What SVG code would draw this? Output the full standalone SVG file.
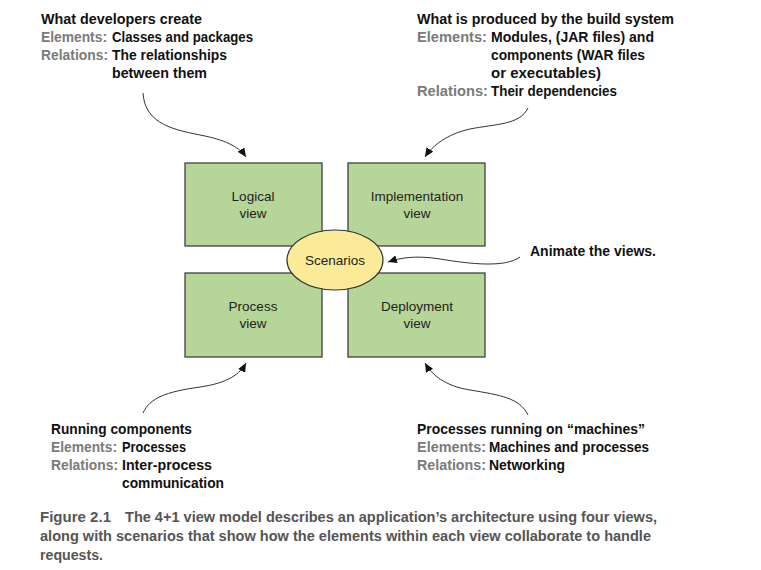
<svg xmlns="http://www.w3.org/2000/svg" width="761" height="570" viewBox="0 0 761 570">
<defs>
<marker id="ah" markerWidth="9" markerHeight="8" refX="9" refY="4" orient="auto" markerUnits="userSpaceOnUse">
<path d="M0,0 L9,4 L0,8 z" fill="#111"/>
</marker>
<style>
.box{fill:#b6d598;stroke:#333;stroke-width:1.2}
.ell{fill:#fbeb98;stroke:#333;stroke-width:1.2}
.bt{font-family:"Liberation Sans",Arial,sans-serif;font-size:13.5px;fill:#222;text-anchor:middle}
.h{font-family:"Liberation Sans",Arial,sans-serif;font-size:15px;font-weight:bold;fill:#111}
.g{font-family:"Liberation Sans",Arial,sans-serif;font-size:15px;font-weight:bold;fill:#7a7a7a}
.cap{font-family:"Liberation Sans",Arial,sans-serif;font-size:14px;font-weight:bold;fill:#555}
.c{fill:none;stroke:#333;stroke-width:1}
</style>
</defs>
<rect width="761" height="570" fill="#fff"/>
<g id="logical"><rect class="box" x="185" y="163" width="137" height="83"/><text class="bt" x="253" y="201">Logical</text><text class="bt" x="253" y="218">view</text></g>
<g id="implementation"><rect class="box" x="348" y="163" width="137" height="83"/><text class="bt" x="417" y="201">Implementation</text><text class="bt" x="417" y="218">view</text></g>
<g id="process"><rect class="box" x="185" y="273" width="137" height="84"/><text class="bt" x="253" y="311">Process</text><text class="bt" x="253" y="328">view</text></g>
<g id="deployment"><rect class="box" x="348" y="273" width="137" height="84"/><text class="bt" x="417" y="311">Deployment</text><text class="bt" x="417" y="328">view</text></g>
<g id="scenarios"><ellipse class="ell" cx="335" cy="260" rx="48" ry="30"/><text class="bt" x="335" y="265">Scenarios</text></g>
<g id="connectors">
<path class="c" marker-end="url(#ah)" d="M143,93 C145,125 175,130 205,136 C228,141 240,148 246,157"/>
<path class="c" marker-end="url(#ah)" d="M528,108 C520,125 495,124 470,129 C447,134 432,146 425,157"/>
<path class="c" marker-end="url(#ah)" d="M143,413 C150,398 165,392 200,387 C228,383 240,374 246,363"/>
<path class="c" marker-end="url(#ah)" d="M528,415 C520,398 500,395 470,390 C445,386 432,375 425,363"/>
<path class="c" marker-end="url(#ah)" d="M520,257 C505,268 470,264 440,259 C415,255 400,258 388,262"/>
</g>
<g id="note-logical">
<text class="h" x="41" y="24" textLength="161" lengthAdjust="spacingAndGlyphs">What developers create</text>
<text class="g" x="41" y="42" textLength="66" lengthAdjust="spacingAndGlyphs">Elements:</text>
<text class="h" x="112" y="42" textLength="141" lengthAdjust="spacingAndGlyphs">Classes and packages</text>
<text class="g" x="41" y="60" textLength="67" lengthAdjust="spacingAndGlyphs">Relations:</text>
<text class="h" x="112" y="60" textLength="115" lengthAdjust="spacingAndGlyphs">The relationships</text>
<text class="h" x="112" y="78" textLength="95" lengthAdjust="spacingAndGlyphs">between them</text>
</g>
<g id="note-implementation">
<text class="h" x="417" y="24" textLength="257" lengthAdjust="spacingAndGlyphs">What is produced by the build system</text>
<text class="g" x="417" y="42" textLength="70" lengthAdjust="spacingAndGlyphs">Elements:</text>
<text class="h" x="491" y="42" textLength="163" lengthAdjust="spacingAndGlyphs">Modules, (JAR files) and</text>
<text class="h" x="491" y="60" textLength="154" lengthAdjust="spacingAndGlyphs">components (WAR files</text>
<text class="h" x="491" y="78" textLength="110" lengthAdjust="spacingAndGlyphs">or executables)</text>
<text class="g" x="417" y="96" textLength="71" lengthAdjust="spacingAndGlyphs">Relations:</text>
<text class="h" x="491" y="96" textLength="126" lengthAdjust="spacingAndGlyphs">Their dependencies</text>
</g>
<g id="note-scenarios">
<text class="h" x="530" y="256" textLength="126" lengthAdjust="spacingAndGlyphs">Animate the views.</text>
</g>
<g id="note-process">
<text class="h" x="51" y="434" textLength="141" lengthAdjust="spacingAndGlyphs">Running components</text>
<text class="g" x="51" y="452" textLength="66" lengthAdjust="spacingAndGlyphs">Elements:</text>
<text class="h" x="122" y="452" textLength="64" lengthAdjust="spacingAndGlyphs">Processes</text>
<text class="g" x="51" y="470" textLength="67" lengthAdjust="spacingAndGlyphs">Relations:</text>
<text class="h" x="122" y="470" textLength="90" lengthAdjust="spacingAndGlyphs">Inter-process</text>
<text class="h" x="122" y="488" textLength="102" lengthAdjust="spacingAndGlyphs">communication</text>
</g>
<g id="note-deployment">
<text class="h" x="417" y="434" textLength="228" lengthAdjust="spacingAndGlyphs">Processes running on “machines”</text>
<text class="g" x="417" y="452" textLength="69" lengthAdjust="spacingAndGlyphs">Elements:</text>
<text class="h" x="489" y="452" textLength="160" lengthAdjust="spacingAndGlyphs">Machines and processes</text>
<text class="g" x="417" y="470" textLength="69" lengthAdjust="spacingAndGlyphs">Relations:</text>
<text class="h" x="489" y="470" textLength="76" lengthAdjust="spacingAndGlyphs">Networking</text>
</g>
<g id="caption">
<text class="cap" x="40" y="522" textLength="71" lengthAdjust="spacingAndGlyphs">Figure 2.1</text>
<text class="cap" x="125" y="522" textLength="532" lengthAdjust="spacingAndGlyphs">The 4+1 view model describes an application’s architecture using four views,</text>
<text class="cap" x="40" y="541" textLength="611" lengthAdjust="spacingAndGlyphs">along with scenarios that show how the elements within each view collaborate to handle</text>
<text class="cap" x="40" y="560" textLength="63" lengthAdjust="spacingAndGlyphs">requests.</text>
</g>
</svg>
